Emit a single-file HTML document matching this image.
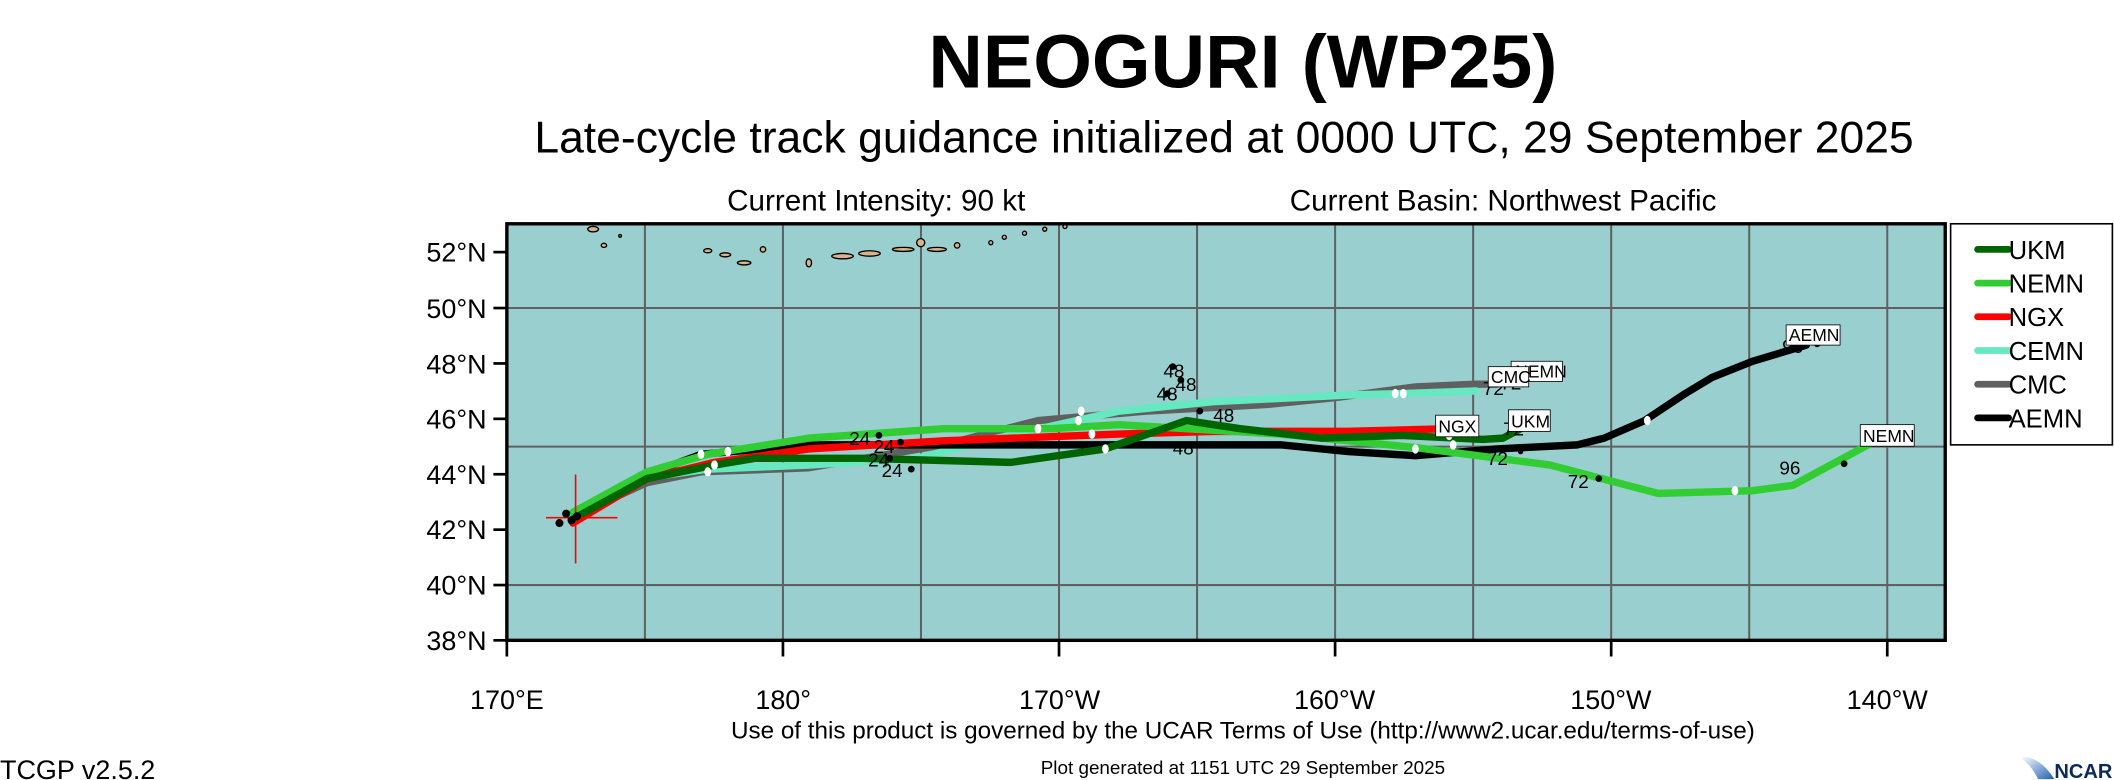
<!DOCTYPE html>
<html><head><meta charset="utf-8"><style>html,body{margin:0;padding:0;background:#fff}svg{display:block}</style></head>
<body>
<svg width="2114" height="780" viewBox="0 0 1568.2 578.6" xmlns="http://www.w3.org/2000/svg" font-family="Liberation Sans, sans-serif">
<rect width="1568.2" height="578.6" fill="#fff"/>
<text x="922" y="65" font-size="56" font-weight="bold" text-anchor="middle">NEOGURI (WP25)</text>
<text x="908" y="113" font-size="33" text-anchor="middle">Late-cycle track guidance initialized at 0000 UTC, 29 September 2025</text>
<text x="650" y="156" font-size="22" text-anchor="middle">Current Intensity: 90 kt</text>
<text x="1115" y="156" font-size="22" text-anchor="middle">Current Basin: Northwest Pacific</text>
<!-- map -->
<rect x="376" y="166" width="1067" height="309" fill="#99cfcf"/>
<g stroke="#606060" stroke-width="1.5">
<line x1="478.4" y1="166" x2="478.4" y2="475"/><line x1="580.8" y1="166" x2="580.8" y2="475"/>
<line x1="683.2" y1="166" x2="683.2" y2="475"/><line x1="785.6" y1="166" x2="785.6" y2="475"/>
<line x1="888" y1="166" x2="888" y2="475"/><line x1="990.4" y1="166" x2="990.4" y2="475"/>
<line x1="1092.8" y1="166" x2="1092.8" y2="475"/><line x1="1195.2" y1="166" x2="1195.2" y2="475"/>
<line x1="1297.6" y1="166" x2="1297.6" y2="475"/><line x1="1400" y1="166" x2="1400" y2="475"/>
<line x1="376" y1="228.5" x2="1443" y2="228.5"/><line x1="376" y1="331.3" x2="1443" y2="331.3"/><line x1="376" y1="434" x2="1443" y2="434"/>
</g>
<!-- islands -->
<g fill="#d9b48a" stroke="#000" stroke-width="1">
<ellipse cx="440" cy="170" rx="4" ry="2"/><ellipse cx="448" cy="182" rx="2" ry="1.5"/><circle cx="460" cy="175" r="1"/>
<ellipse cx="525" cy="186" rx="3" ry="1.5"/><ellipse cx="538" cy="189" rx="4" ry="1.5"/><ellipse cx="552" cy="195" rx="5" ry="1.5"/>
<circle cx="566" cy="185" r="2"/><ellipse cx="600" cy="195" rx="2" ry="3"/><ellipse cx="625" cy="190" rx="8" ry="2"/>
<ellipse cx="645" cy="188" rx="8" ry="2"/><ellipse cx="670" cy="185" rx="8" ry="1.5"/><circle cx="683" cy="180" r="3"/>
<ellipse cx="695" cy="185" rx="7" ry="1.5"/><circle cx="710" cy="182" r="2"/><circle cx="735" cy="180" r="1.5"/>
<circle cx="745" cy="176" r="1.5"/><circle cx="760" cy="173" r="1.5"/><circle cx="775" cy="170" r="1.5"/><circle cx="790" cy="168" r="1.5"/>
</g>
<!-- tracks -->
<g fill="none" stroke-width="5.5" stroke-linejoin="round" stroke-linecap="round">
<polyline stroke="#606060" points="425,383 480,358 520,350 600,347 700,330 770,312 850,305 940,300 990,295 1050,287 1095,285 1110,285"/>
<polyline stroke="#66e8c0" points="425,383 475,355 525,348 600,345 680,340 740,325 830,305 900,298 1000,293 1040,292 1095,290"/>
<polyline stroke="#000" points="425,385 480,352 520,337 600,330 700,330 830,330 950,330 1000,335 1050,338 1110,333 1170,330 1190,325 1220,312 1250,292 1270,280 1300,268 1340,256"/>
<polyline stroke="#ff0000" points="425,388 480,355 530,343 600,333 700,327 830,322 900,320 1000,320 1075,318 1090,318"/>
<polyline stroke="#32cd32" points="425,380 480,350 525,337 600,325 700,318 780,318 830,315 880,318 950,322 1050,332 1150,345 1230,366 1300,364 1330,360 1395,325"/>
<polyline stroke="#006400" points="425,385 480,355 530,345 560,340 640,340 750,343 820,333 880,312 920,318 980,325 1040,323 1100,326 1115,325 1128,318"/>
</g>
<!-- red cross -->
<g stroke="#ff0000" stroke-width="1.2"><line x1="405" y1="384" x2="458" y2="384"/><line x1="427" y1="352" x2="427" y2="418"/></g>
<!-- markers -->
<g fill="#000">
<circle cx="415" cy="388" r="3"/><circle cx="420" cy="381" r="3"/><circle cx="424" cy="386" r="3"/><circle cx="428" cy="383" r="3"/>
<circle cx="652" cy="323" r="2.5"/><circle cx="668" cy="328" r="2.5"/><circle cx="660" cy="340" r="2.5"/><circle cx="676" cy="348" r="2.5"/>
<circle cx="870" cy="272" r="2.5"/><circle cx="876" cy="282" r="2.5"/><circle cx="866" cy="292" r="2.5"/><circle cx="890" cy="305" r="2.5"/>
<circle cx="1186" cy="355" r="2.5"/><circle cx="1368" cy="344" r="2.5"/><circle cx="1348" cy="255" r="2.5"/><circle cx="1128" cy="335" r="2"/>
</g>
<g fill="#fff">
<ellipse cx="520" cy="337" rx="2.5" ry="3.5"/><ellipse cx="530" cy="345" rx="2.5" ry="3.5"/><ellipse cx="525" cy="350" rx="2.5" ry="3.5"/><ellipse cx="540" cy="335" rx="2.5" ry="3.5"/>
<ellipse cx="770" cy="318" rx="2.5" ry="3.5"/><ellipse cx="800" cy="312" rx="2.5" ry="3.5"/><ellipse cx="810" cy="322" rx="2.5" ry="3.5"/><ellipse cx="820" cy="333" rx="2.5" ry="3.5"/><ellipse cx="802" cy="305" rx="2.5" ry="3.5"/>
<ellipse cx="1035" cy="292" rx="2.5" ry="3.5"/><ellipse cx="1041" cy="292" rx="2.5" ry="3.5"/><ellipse cx="1075" cy="323" rx="2.5" ry="3.5"/><ellipse cx="1078" cy="330" rx="2.5" ry="3.5"/>
<ellipse cx="1050" cy="333" rx="2.5" ry="3.5"/><ellipse cx="1222" cy="312" rx="2.5" ry="3.5"/><ellipse cx="1287" cy="364" rx="2.5" ry="3.5"/>
</g>
<g font-size="14" fill="#000">
<text x="630" y="330">24</text><text x="648" y="336">24</text><text x="644" y="346">24</text><text x="654" y="354">24</text>
<text x="863" y="280">48</text><text x="872" y="290">48</text><text x="858" y="297">48</text><text x="900" y="313">48</text><text x="870" y="337">48</text>
<text x="1100" y="293">72</text><text x="1113" y="289">72</text><text x="1115" y="323">72</text><text x="1103" y="345">72</text><text x="1163" y="362">72</text>
<text x="1320" y="352">96</text><text x="1322" y="262">96</text>
</g>
<g font-size="13" fill="#000">
<rect x="1121" y="268" width="38" height="15" fill="#fff" stroke="#000" stroke-width="0.6"/><text x="1124" y="280">NEMN</text>
<rect x="1104" y="272" width="30" height="15" fill="#fff" stroke="#000" stroke-width="0.6"/><text x="1106" y="284">CMC</text>
<rect x="1119" y="304" width="31" height="16" fill="#fff" stroke="#000" stroke-width="0.6"/><text x="1121" y="317">UKM</text>
<rect x="1065" y="308" width="32" height="16" fill="#fff" stroke="#000" stroke-width="0.6"/><text x="1067" y="321">NGX</text>
<rect x="1325" y="241" width="40" height="15" fill="#fff" stroke="#000" stroke-width="0.6"/><text x="1327" y="253">AEMN</text>
<rect x="1380" y="315" width="40" height="16" fill="#fff" stroke="#000" stroke-width="0.6"/><text x="1382" y="328">NEMN</text>
</g>
<!-- frame -->
<rect x="376" y="166" width="1067" height="309" fill="none" stroke="#000" stroke-width="2.5"/>
<g stroke="#000" stroke-width="2">
<line x1="366" y1="187" x2="376" y2="187"/><line x1="366" y1="228.5" x2="376" y2="228.5"/><line x1="366" y1="269.6" x2="376" y2="269.6"/>
<line x1="366" y1="310.7" x2="376" y2="310.7"/><line x1="366" y1="351.8" x2="376" y2="351.8"/><line x1="366" y1="392.9" x2="376" y2="392.9"/>
<line x1="366" y1="434" x2="376" y2="434"/><line x1="366" y1="475" x2="376" y2="475"/>
<line x1="376" y1="475" x2="376" y2="487"/><line x1="580.8" y1="475" x2="580.8" y2="487"/><line x1="785.6" y1="475" x2="785.6" y2="487"/>
<line x1="990.4" y1="475" x2="990.4" y2="487"/><line x1="1195.2" y1="475" x2="1195.2" y2="487"/><line x1="1400" y1="475" x2="1400" y2="487"/>
</g>
<g font-size="20" text-anchor="end">
<text x="361" y="194">52°N</text><text x="361" y="236">50°N</text><text x="361" y="277">48°N</text><text x="361" y="318">46°N</text>
<text x="361" y="359">44°N</text><text x="361" y="400">42°N</text><text x="361" y="441">40°N</text><text x="361" y="482">38°N</text>
</g>
<g font-size="20" text-anchor="middle">
<text x="376" y="526">170°E</text><text x="581" y="526">180°</text><text x="786" y="526">170°W</text>
<text x="990" y="526">160°W</text><text x="1195" y="526">150°W</text><text x="1400" y="526">140°W</text>
</g>
<!-- legend -->
<rect x="1447" y="166" width="120" height="164" fill="#fff" stroke="#000" stroke-width="1.2"/>
<g stroke-width="5" stroke-linecap="round">
<line x1="1467" y1="185" x2="1490" y2="185" stroke="#006400"/><line x1="1467" y1="210" x2="1490" y2="210" stroke="#32cd32"/>
<line x1="1467" y1="235" x2="1490" y2="235" stroke="#ff0000"/><line x1="1467" y1="260" x2="1490" y2="260" stroke="#66e8c0"/>
<line x1="1467" y1="285" x2="1490" y2="285" stroke="#606060"/><line x1="1467" y1="310" x2="1490" y2="310" stroke="#000"/>
</g>
<g font-size="19">
<text x="1490" y="192">UKM</text><text x="1490" y="217">NEMN</text><text x="1490" y="242">NGX</text>
<text x="1490" y="267">CEMN</text><text x="1490" y="292">CMC</text><text x="1490" y="317">AEMN</text>
</g>
<text x="922" y="548" font-size="18" text-anchor="middle">Use of this product is governed by the UCAR Terms of Use (http://www2.ucar.edu/terms-of-use)</text>
<text x="0" y="578" font-size="20">TCGP v2.5.2</text>
<text x="922" y="574" font-size="14" text-anchor="middle">Plot generated at 1151 UTC   29 September 2025</text>
<defs><linearGradient id="g" x1="0" y1="0" x2="1" y2="1"><stop offset="0" stop-color="#fff"/><stop offset="1" stop-color="#1f5fb0"/></linearGradient></defs>
<path d="M1500,561 Q1514,562 1524,578 L1512,578 Q1507,568 1500,563 Z" fill="url(#g)"/>
<text x="1524" y="577" font-size="15" font-weight="bold" fill="#0a2a5a" textLength="43" lengthAdjust="spacingAndGlyphs">NCAR</text>
</svg>
</body></html>
